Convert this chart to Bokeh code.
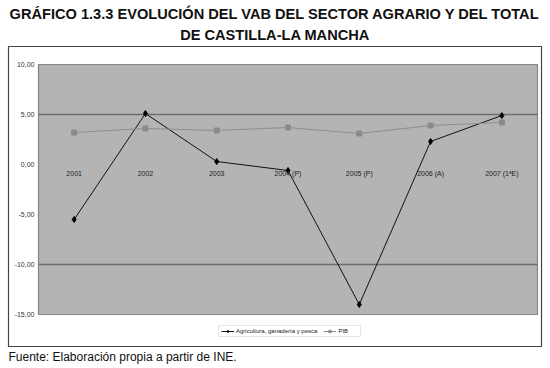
from bokeh.plotting import figure
from bokeh.models import (Range1d, FixedTicker, Title, Legend, LegendItem, ColumnDataSource)
from bokeh.embed import file_html
from bokeh.resources import INLINE

years = ["2001", "2002", "2003", "2004 (P)", "2005 (P)", "2006 (A)", "2007 (1ªE)"]
agricultura = [-5.5, 5.1, 0.3, -0.6, -14.0, 2.3, 4.9]
pib = [3.2, 3.6, 3.4, 3.7, 3.1, 3.9, 4.2]
y_ticks = [-15, -10, -5, 0, 5, 10]
y_tick_labels = ["-15,00", "-10,00", "-5,00", "0,00", "5,00", "10,00"]
grid_ticks = [5, -10]

FONT = "Liberation Sans"

x_idx = list(range(len(years)))
x_lo, x_hi = -0.5, len(years) - 0.5
y_lo, y_hi = min(y_ticks), max(y_ticks)

# frame = outer chart box; plot area sits inside it
p = figure(width=550, height=368,
           x_range=Range1d(-0.9208, 6.556), y_range=Range1d(-18.2, 11.8),
           output_backend="svg", toolbar_location=None,
           min_border_left=8, min_border_right=9, min_border_top=46, min_border_bottom=22)
p.background_fill_color = "white"
p.border_fill_color = "white"
p.outline_line_color = "#444444"
p.outline_line_width = 1.2

# plot area
p.quad(left=[x_lo], right=[x_hi], bottom=[y_lo], top=[y_hi],
       fill_color="#b4b4b4", line_color="#858585", line_width=1.2, level="image")

# horizontal gridlines limited to the plot area
p.grid.visible = False
p.segment(x0=[x_lo] * len(grid_ticks), x1=[x_hi] * len(grid_ticks),
          y0=grid_ticks, y1=grid_ticks, line_color="#6e6e6e", line_width=1.3,
          level="underlay")

p.yaxis.fixed_location = x_lo
p.yaxis.ticker = FixedTicker(ticks=y_ticks)
p.yaxis.major_label_overrides = {t: l for t, l in zip(y_ticks, y_tick_labels)}
p.yaxis.axis_line_color = None
p.yaxis.major_tick_line_color = None
p.yaxis.minor_tick_line_color = None
p.yaxis.major_tick_out = 0
p.yaxis.major_tick_in = 0
p.yaxis.major_label_text_font = FONT
p.yaxis.major_label_text_font_size = "7px"
p.yaxis.major_label_text_color = "#333333"
p.yaxis.major_label_standoff = 4

p.xaxis.fixed_location = 0
p.xaxis.ticker = FixedTicker(ticks=x_idx)
p.xaxis.major_label_overrides = {i: y for i, y in zip(x_idx, years)}
p.xaxis.axis_line_color = None
p.xaxis.major_tick_line_color = None
p.xaxis.minor_tick_line_color = None
p.xaxis.major_tick_out = 0
p.xaxis.major_tick_in = 0
p.xaxis.major_label_text_font = FONT
p.xaxis.major_label_text_font_size = "7px"
p.xaxis.major_label_text_color = "#222222"
p.xaxis.major_label_standoff = 5

src = ColumnDataSource(dict(x=x_idx, agr=agricultura, pib=pib))

l1 = p.line("x", "agr", source=src, line_color="#111111", line_width=1)
s1 = p.scatter("x", "agr", source=src, marker="diamond", size=6, color="#000000")
l2 = p.line("x", "pib", source=src, line_color="#8e8e8e", line_width=1)
s2 = p.scatter("x", "pib", source=src, marker="square", size=5, color="#8a8a8a")

legend = Legend(items=[LegendItem(label="Agricultura, ganadería y pesca", renderers=[l1, s1]),
                       LegendItem(label="PIB", renderers=[l2, s2])],
                orientation="horizontal", location=(210, 9),
                label_text_font=FONT, label_text_font_size="6px", label_text_color="#222222",
                glyph_width=13, glyph_height=6, label_height=6, label_standoff=2,
                spacing=6, padding=2, margin=0,
                border_line_color="#d0d0d0", background_fill_color="white")
p.add_layout(legend, "center")

p.add_layout(Title(text="DE CASTILLA-LA MANCHA", align="center", text_font=FONT,
                   text_font_style="bold", text_font_size="14.6px", text_color="#111111",
                   standoff=7, offset=1), "above")
p.add_layout(Title(text="GRÁFICO 1.3.3 EVOLUCIÓN DEL VAB DEL SECTOR AGRARIO Y DEL TOTAL",
                   align="center", text_font=FONT, text_font_style="bold",
                   text_font_size="14.6px", text_color="#111111", standoff=0, offset=1),
              "above")
p.add_layout(Title(text="Fuente: Elaboración propia a partir de INE.", align="left",
                   text_font=FONT, text_font_style="normal", text_font_size="12px",
                   text_color="#111111", standoff=2), "below")

open("out.html", "w").write(file_html(p, INLINE))
